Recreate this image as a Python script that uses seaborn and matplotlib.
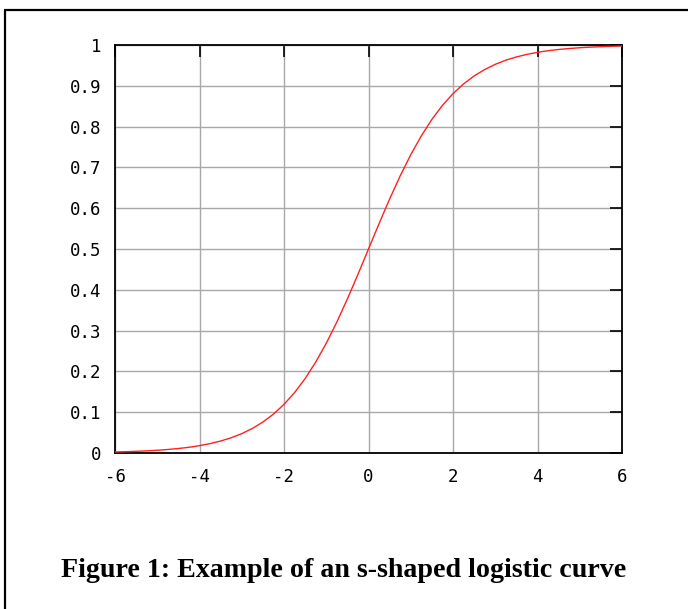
import matplotlib
matplotlib.use("Agg")
import matplotlib.pyplot as plt
from matplotlib.lines import Line2D
import seaborn as sns
import pandas as pd

# Data (logistic curve)
x_vals = [-6, -5.75, -5.5, -5.25, -5, -4.75, -4.5, -4.25, -4, -3.75, -3.5, -3.25,
          -3, -2.75, -2.5, -2.25, -2, -1.75, -1.5, -1.25, -1, -0.75, -0.5, -0.25,
          0, 0.25, 0.5, 0.75, 1, 1.25, 1.5, 1.75, 2, 2.25, 2.5, 2.75, 3, 3.25,
          3.5, 3.75, 4, 4.25, 4.5, 4.75, 5, 5.25, 5.5, 5.75, 6]
y_vals = [0.0025, 0.0032, 0.0041, 0.0052, 0.0067, 0.0086, 0.0110, 0.0140, 0.0180,
          0.0230, 0.0293, 0.0373, 0.0474, 0.0601, 0.0759, 0.0953, 0.1192, 0.1480,
          0.1824, 0.2227, 0.2689, 0.3208, 0.3775, 0.4378, 0.5, 0.5622, 0.6225,
          0.6792, 0.7311, 0.7773, 0.8176, 0.8520, 0.8808, 0.9047, 0.9241, 0.9399,
          0.9526, 0.9627, 0.9707, 0.9770, 0.9820, 0.9860, 0.9890, 0.9914, 0.9933,
          0.9948, 0.9959, 0.9968, 0.9975]
x_ticks = [-6, -4, -2, 0, 2, 4, 6]
x_tick_labels = ["-6", "-4", "-2", "0", "2", "4", "6"]
y_ticks = [0, 0.1, 0.2, 0.3, 0.4, 0.5, 0.6, 0.7, 0.8, 0.9, 1]
y_tick_labels = ["0", "0.1", "0.2", "0.3", "0.4", "0.5", "0.6", "0.7", "0.8", "0.9", "1"]
caption = "Figure 1: Example of an s-shaped logistic curve"

df = pd.DataFrame({"x": x_vals, "y": y_vals})

sns.set_style("white")
plt.rcParams["font.family"] = ["DejaVu Sans Mono", "DejaVu Sans"]
plt.rcParams["text.color"] = "black"

W, H = 688, 609
fig = plt.figure(figsize=(W / 100, H / 100), dpi=100)
ax = fig.add_axes([115 / W, 1 - 453 / H, (622 - 115) / W, (453 - 45) / H])

sns.lineplot(data=df, x="x", y="y", ax=ax, color="#ff2020", linewidth=1.0, zorder=3)

ax.set_xlim(-6, 6)
ax.set_ylim(0, 1)
ax.set_xticks(x_ticks)
ax.set_xticklabels(x_tick_labels)
ax.set_yticks(y_ticks)
ax.set_yticklabels(y_tick_labels)
ax.set_xlabel("")
ax.set_ylabel("")
ax.grid(True, color="#a8a8a8", linewidth=1.0)
ax.set_axisbelow(True)
for s in ax.spines.values():
    s.set_visible(True)
    s.set_color("black")
    s.set_linewidth(1.3)
ax.tick_params(axis="both", direction="in", length=8.5, width=1.2, color="black",
               top=True, right=True, labelsize=12.5, labelcolor="black")
ax.tick_params(axis="y", pad=10)
ax.tick_params(axis="x", pad=11)

# Outer frame (top and left edges visible)
fig.add_artist(Line2D([5 / W, 1.0], [1 - 10 / H, 1 - 10 / H], color="black", linewidth=1.6,
                      transform=fig.transFigure))
fig.add_artist(Line2D([5 / W, 5 / W], [0.0, 1 - 10 / H], color="black", linewidth=1.6,
                      transform=fig.transFigure))

fig.text(344 / W, 1 - 577 / H, caption, ha="center", va="baseline", color="black",
         family=["Liberation Serif", "DejaVu Serif"], fontweight="bold", fontsize=20.2)

fig.savefig("out.png", dpi=100)
